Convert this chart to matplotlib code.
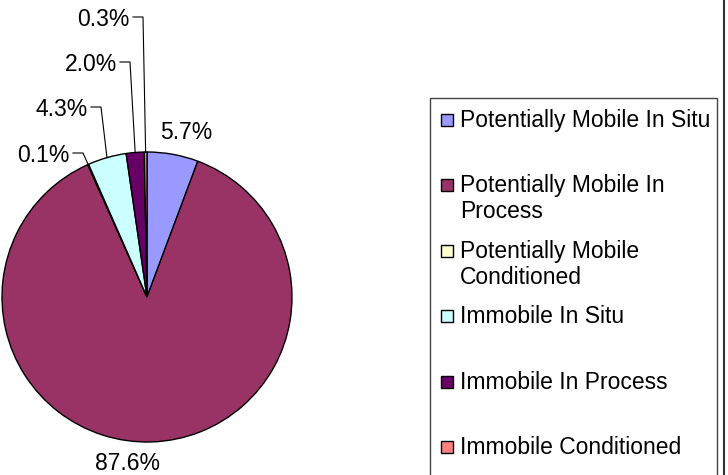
import numpy as np
import matplotlib.pyplot as plt
from matplotlib.patches import Rectangle
from matplotlib.lines import Line2D

# data
categories = ["Potentially Mobile In Situ",
              "Potentially Mobile In\nProcess",
              "Potentially Mobile\nConditioned",
              "Immobile In Situ",
              "Immobile In Process",
              "Immobile Conditioned"]
values = [5.7, 87.6, 0.1, 4.3, 2.0, 0.3]
colors = ["#9999FF", "#993366", "#FFFFCC", "#CCFFFF", "#660066", "#FF8080"]

plt.rcParams['font.family'] = ['Liberation Sans', 'DejaVu Sans']
W, H = 728, 475
fig = plt.figure(figsize=(W / 100, H / 100), dpi=100)

# pie position in pixels (centre and radius)
cx, cy, r = 147, 297, 145
ax = fig.add_axes([(cx - r) / W, (H - cy - r) / H, 2 * r / W, 2 * r / H])
wedges, _ = ax.pie(values, colors=colors, startangle=90, counterclock=False,
                   wedgeprops=dict(edgecolor='black', linewidth=1))
ax.set_xlim(-1, 1)
ax.set_ylim(-1, 1)
ax.axis('off')


def px(x, y):
    # pixel position -> pie data units
    return (x - cx) / r, (cy - y) / r


# label anchors in pixels, and whether a leader line is drawn
label_pos = [(186, 130, False), (127, 461, False), (70, 153, True),
             (88, 107, True), (117, 62, True), (130, 17, True)]
fs = 16.5
for w, v, (lx, ly, lead) in zip(wedges, values, label_pos):
    tx, ty = px(lx, ly)
    txt = f"{v:.1f}%"
    if lead:
        ax.text(tx, ty, txt, ha='right', va='center_baseline', fontsize=fs)
        mid = np.deg2rad((w.theta1 + w.theta2) / 2)
        ex, ey = np.cos(mid), np.sin(mid)
        x0 = tx + 3 / r
        x1 = x0 + 10 / r
        ax.plot([x0, x1, ex], [ty, ty, ey], color='black', lw=0.8, clip_on=False)
    else:
        ax.text(tx, ty, txt, ha='center', va='center_baseline', fontsize=fs)

# legend box (drawn by hand to follow the spacing of the original)
tf = fig.transFigure
fig.add_artist(Rectangle((430 / W, -5 / H), (717 - 430) / W, (H - 98 + 5) / H,
                         transform=tf, facecolor='white', edgecolor='#444444', lw=1))
y0, step, line_h = 120, 65.4, 26
for i, (lab, c) in enumerate(zip(categories, colors)):
    yc = y0 + i * step
    fig.add_artist(Rectangle((441 / W, (H - yc - 6) / H), 12 / W, 12 / H,
                             transform=tf, facecolor=c, edgecolor='black', lw=1))
    for k, line in enumerate(lab.split("\n")):
        fig.text(460 / W, (H - (yc - 2 + k * line_h)) / H, line, fontsize=fs,
                 ha='left', va='center_baseline')

# right frame edge
fig.add_artist(Line2D([724 / W, 724 / W], [0, 1], transform=tf, color='#333333', lw=1.5))

fig.savefig("out.png", dpi=100)
